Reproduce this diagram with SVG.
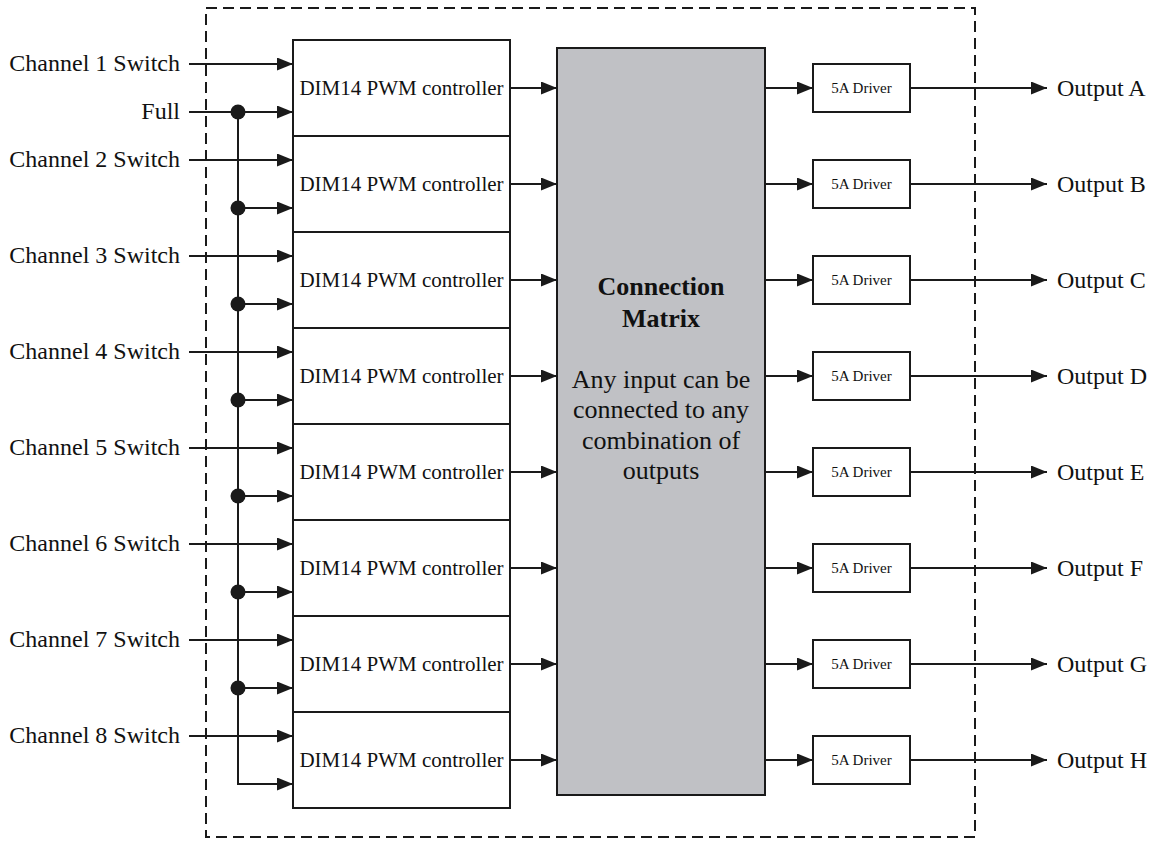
<svg xmlns="http://www.w3.org/2000/svg" width="1150" height="841" viewBox="0 0 1150 841" font-family="'Liberation Serif', 'Times New Roman', Times, serif">
<defs>
<marker id="ah" viewBox="0 0 16 13" refX="16" refY="6.5" markerWidth="16" markerHeight="13" markerUnits="userSpaceOnUse" orient="auto">
<path d="M0,0 L16,6.5 L0,13 Z" fill="#1a1a1a"/>
</marker>
<style>
.ln{stroke:#1a1a1a;stroke-width:2;fill:none}
.ar{stroke:#1a1a1a;stroke-width:2;fill:none;marker-end:url(#ah)}
.box{fill:#fff;stroke:#1a1a1a;stroke-width:2}
text{font-family:'Liberation Serif','Times New Roman',Times,serif;fill:#111}
.lab{font-size:24px}
.pwm{font-size:21px;text-anchor:middle}
.drv{font-size:15px;text-anchor:middle}
.mx{font-size:26px;text-anchor:middle}
.dot{fill:#1a1a1a}
</style>
</defs>
<rect width="1150" height="841" fill="#fff"/>
<rect id="boundary" x="206" y="8" width="769" height="829" fill="none" stroke="#1a1a1a" stroke-width="2" stroke-dasharray="11,6"/>

<g id="labels-in" class="lab" text-anchor="end" font-size="24">
<text x="180" y="71">Channel 1 Switch</text>
<text x="180" y="119">Full</text>
<text x="180" y="167">Channel 2 Switch</text>
<text x="180" y="263">Channel 3 Switch</text>
<text x="180" y="359">Channel 4 Switch</text>
<text x="180" y="455">Channel 5 Switch</text>
<text x="180" y="551">Channel 6 Switch</text>
<text x="180" y="647">Channel 7 Switch</text>
<text x="180" y="743">Channel 8 Switch</text>
</g>

<g id="pwm">
<g id="pwm1"><rect class="box" x="293" y="40" width="217" height="96"/><text class="pwm" x="401.5" y="95">DIM14 PWM controller</text></g>
<g id="pwm2"><rect class="box" x="293" y="136" width="217" height="96"/><text class="pwm" x="401.5" y="191">DIM14 PWM controller</text></g>
<g id="pwm3"><rect class="box" x="293" y="232" width="217" height="96"/><text class="pwm" x="401.5" y="287">DIM14 PWM controller</text></g>
<g id="pwm4"><rect class="box" x="293" y="328" width="217" height="96"/><text class="pwm" x="401.5" y="383">DIM14 PWM controller</text></g>
<g id="pwm5"><rect class="box" x="293" y="424" width="217" height="96"/><text class="pwm" x="401.5" y="479">DIM14 PWM controller</text></g>
<g id="pwm6"><rect class="box" x="293" y="520" width="217" height="96"/><text class="pwm" x="401.5" y="575">DIM14 PWM controller</text></g>
<g id="pwm7"><rect class="box" x="293" y="616" width="217" height="96"/><text class="pwm" x="401.5" y="671">DIM14 PWM controller</text></g>
<g id="pwm8"><rect class="box" x="293" y="712" width="217" height="96"/><text class="pwm" x="401.5" y="767">DIM14 PWM controller</text></g>
</g>

<g id="matrix">
<rect x="557" y="48" width="208" height="747" fill="#c0c1c5" stroke="#1a1a1a" stroke-width="2"/>
<text class="mx" x="661" y="295" font-weight="bold">Connection</text>
<text class="mx" x="661" y="327" font-weight="bold">Matrix</text>
<text class="mx" x="661" y="388">Any input can be</text>
<text class="mx" x="661" y="418">connected to any</text>
<text class="mx" x="661" y="449">combination of</text>
<text class="mx" x="661" y="479">outputs</text>
</g>

<g id="drivers">
<g id="drvA"><rect class="box" x="813" y="64" width="97" height="48"/><text class="drv" x="861.5" y="93">5A Driver</text></g>
<g id="drvB"><rect class="box" x="813" y="160" width="97" height="48"/><text class="drv" x="861.5" y="189">5A Driver</text></g>
<g id="drvC"><rect class="box" x="813" y="256" width="97" height="48"/><text class="drv" x="861.5" y="285">5A Driver</text></g>
<g id="drvD"><rect class="box" x="813" y="352" width="97" height="48"/><text class="drv" x="861.5" y="381">5A Driver</text></g>
<g id="drvE"><rect class="box" x="813" y="448" width="97" height="48"/><text class="drv" x="861.5" y="477">5A Driver</text></g>
<g id="drvF"><rect class="box" x="813" y="544" width="97" height="48"/><text class="drv" x="861.5" y="573">5A Driver</text></g>
<g id="drvG"><rect class="box" x="813" y="640" width="97" height="48"/><text class="drv" x="861.5" y="669">5A Driver</text></g>
<g id="drvH"><rect class="box" x="813" y="736" width="97" height="48"/><text class="drv" x="861.5" y="765">5A Driver</text></g>
</g>

<g id="labels-out" class="lab" font-size="24">
<text x="1057" y="96">Output A</text>
<text x="1057" y="192">Output B</text>
<text x="1057" y="288">Output C</text>
<text x="1057" y="384">Output D</text>
<text x="1057" y="480">Output E</text>
<text x="1057" y="576">Output F</text>
<text x="1057" y="672">Output G</text>
<text x="1057" y="768">Output H</text>
</g>

<g id="connectors">
<path class="ar" d="M189,64 H293"/>
<path class="ar" d="M189,160 H293"/>
<path class="ar" d="M189,256 H293"/>
<path class="ar" d="M189,352 H293"/>
<path class="ar" d="M189,448 H293"/>
<path class="ar" d="M189,544 H293"/>
<path class="ar" d="M189,640 H293"/>
<path class="ar" d="M189,736 H293"/>
<path class="ar" d="M189,112 H293"/>
<path class="ln" d="M238,112 V784"/>
<path class="ar" d="M238,208 H293"/>
<path class="ar" d="M238,304 H293"/>
<path class="ar" d="M238,400 H293"/>
<path class="ar" d="M238,496 H293"/>
<path class="ar" d="M238,592 H293"/>
<path class="ar" d="M238,688 H293"/>
<path class="ar" d="M237,784 H293"/>
<circle class="dot" cx="238" cy="112" r="7.5"/>
<circle class="dot" cx="238" cy="208" r="7.5"/>
<circle class="dot" cx="238" cy="304" r="7.5"/>
<circle class="dot" cx="238" cy="400" r="7.5"/>
<circle class="dot" cx="238" cy="496" r="7.5"/>
<circle class="dot" cx="238" cy="592" r="7.5"/>
<circle class="dot" cx="238" cy="688" r="7.5"/>
<path class="ar" d="M510,88 H557"/>
<path class="ar" d="M510,184 H557"/>
<path class="ar" d="M510,280 H557"/>
<path class="ar" d="M510,376 H557"/>
<path class="ar" d="M510,472 H557"/>
<path class="ar" d="M510,568 H557"/>
<path class="ar" d="M510,664 H557"/>
<path class="ar" d="M510,760 H557"/>
<path class="ar" d="M765,88 H813"/>
<path class="ar" d="M765,184 H813"/>
<path class="ar" d="M765,280 H813"/>
<path class="ar" d="M765,376 H813"/>
<path class="ar" d="M765,472 H813"/>
<path class="ar" d="M765,568 H813"/>
<path class="ar" d="M765,664 H813"/>
<path class="ar" d="M765,760 H813"/>
<path class="ar" d="M910,88 H1047"/>
<path class="ar" d="M910,184 H1047"/>
<path class="ar" d="M910,280 H1047"/>
<path class="ar" d="M910,376 H1047"/>
<path class="ar" d="M910,472 H1047"/>
<path class="ar" d="M910,568 H1047"/>
<path class="ar" d="M910,664 H1047"/>
<path class="ar" d="M910,760 H1047"/>
</g>
</svg>
